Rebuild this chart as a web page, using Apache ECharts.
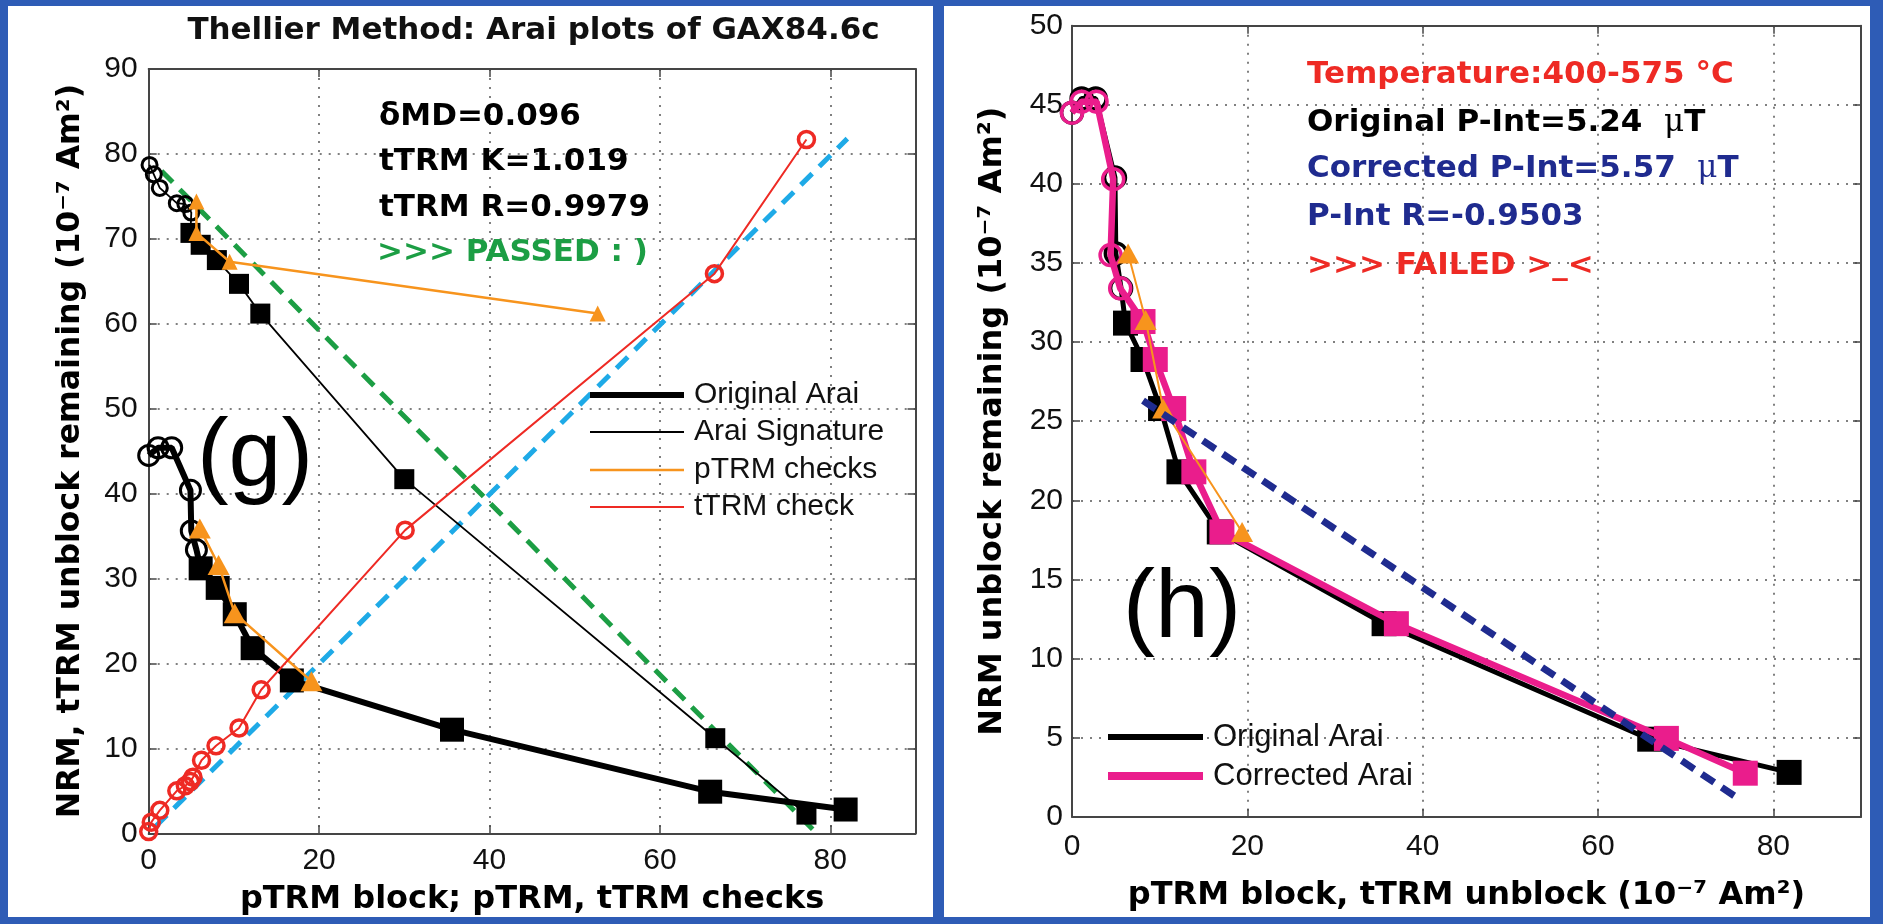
<!DOCTYPE html>
<html>
<head>
<meta charset="utf-8">
<title>Thellier Method: Arai plots of GAX84.6c</title>
<script src="https://cdn.jsdelivr.net/npm/echarts@6/dist/echarts.min.js"></script>
<style>
  html, body { margin: 0; padding: 0; width: 1883px; height: 924px; overflow: hidden; background: #2e5cb6; }
  .panel { position: absolute; background: #ffffff; }
  #chart { position: absolute; left: 0; top: 0; width: 1883px; height: 924px; }
</style>
</head>
<body>
<div class="panel" style="left:8px; top:6px; width:925px; height:911px;"></div>
<div class="panel" style="left:944px; top:6px; width:926px; height:911px;"></div>
<div id="chart"></div>
<script>
// ---- Panel (g): Arai plot and Arai signature (units 1e-7 Am^2) ----
// original Arai: NRM remaining vs pTRM gained (circles = low-T steps, squares = fitted steps)
const origCircles = [[0.0, 44.5], [1.1, 45.4], [2.7, 45.4], [4.9, 40.4], [5.0, 35.6], [5.6, 33.4]];
const origSquares = [[6.1, 31.2], [8.1, 28.9], [10.1, 25.8], [12.2, 21.8], [16.8, 18.0], [35.6, 12.2], [65.9, 4.9], [81.8, 2.8]];
// Arai signature
const sigCircles = [[0.1, 78.7], [0.6, 77.6], [1.3, 76.0], [3.3, 74.2], [4.3, 74.1], [5.0, 73.1]];
const sigSquares = [[4.9, 70.7], [6.1, 69.3], [8.0, 67.5], [10.6, 64.7], [13.1, 61.2], [30.0, 41.7], [66.5, 11.2], [77.2, 2.2]];
// pTRM checks
const sigChecks = [[5.6, 74.4], [5.6, 70.7], [9.5, 67.3], [52.7, 61.2]];
const origChecks = [[6.0, 35.9], [8.2, 31.6], [10.1, 25.9], [19.1, 17.9]];
// tTRM check
const tTRMCheck = [[0.0, 0.2], [0.3, 1.3], [1.3, 2.7], [3.3, 5.0], [4.3, 5.6], [4.9, 6.1], [5.2, 6.6],
                   [6.2, 8.6], [7.9, 10.3], [10.6, 12.4], [13.2, 16.9], [30.1, 35.7], [66.4, 65.9], [77.2, 81.7]];
// fitted lines
const sigFit = [[1.5, 78.0], [78.4, 0.0]];
const tTRMFit = [[0.8, 0.8], [82.0, 81.8]];

// ---- Panel (h): corrected Arai plot ----
const corrCircles = [[0.0, 44.5], [1.1, 45.2], [2.8, 45.2], [4.7, 40.3], [4.4, 35.5], [5.5, 33.4]];
const corrSquares = [[8.1, 31.3], [9.5, 28.9], [11.6, 25.8], [13.9, 21.8], [17.1, 18.0], [37.0, 12.2], [67.8, 4.95], [76.8, 2.75]];
const corrChecks = [[6.4, 35.6], [8.4, 31.4], [10.4, 25.8], [19.4, 18.0]];
const corrFit = [[8.1, 26.3], [75.6, 1.3]];

// axis ranges and tick steps
const gAxisX = { max: 90, step: 20 };
const gAxisY = { max: 90, step: 10 };
const hAxisX = { max: 90, step: 20 };
const hAxisY = { max: 50, step: 5 };

// texts
const titleText = 'Thellier Method: Arai plots of GAX84.6c';
const gStats = ['\u03B4MD=0.096', 'tTRM K=1.019', 'tTRM R=0.9979'];
const gVerdict = '>>> PASSED : )';
const hStats = ['Temperature:400-575 \u00B0C', 'Original P-Int=5.24  {mu|\u03BC}T', 'Corrected P-Int=5.57  {mu|\u03BC}T', 'P-Int R=-0.9503'];
const hVerdict = '>>> FAILED >_<';
const gLegend = ['Original Arai', 'Arai Signature', 'pTRM checks', 'tTRM check'];
const hLegend = ['Original Arai', 'Corrected Arai'];
const gXName = 'pTRM block; pTRM, tTRM checks';
const gYName = 'NRM, tTRM unblock remaining (10\u207B\u2077 Am\u00B2)';
const hXName = 'pTRM block, tTRM unblock (10\u207B\u2077 Am\u00B2)';
const hYName = 'NRM unblock remaining (10\u207B\u2077 Am\u00B2)';

// colours
const C = {
  black: '#000000', orange: '#f7941d', red: '#ee2a24', green: '#1c9e44',
  cyan: '#1eaae7', pink: '#ea1d8c', navy: '#1f2b8f', axis: '#454545', grid: '#808080'
};

const BOLD = '"DejaVu Sans", "Liberation Sans", sans-serif';
const REG = '"Liberation Sans", Arial, sans-serif';

function axis(kind, gridIndex, position, range, opts) {
  const main = opts.main;
  const a = {
    type: 'value', gridIndex, position, min: 0, max: range.max, interval: range.step,
    axisLine: { show: true, onZero: false, lineStyle: { color: C.axis, width: 2 } },
    axisTick: { show: true, inside: true, length: 8, lineStyle: { color: C.axis, width: 1.5 } },
    axisLabel: { show: main, color: '#111', fontFamily: REG, fontSize: 30, margin: opts.margin || 10,
                 showMaxLabel: kind === 'y' },
    splitLine: { show: main, lineStyle: { color: C.grid, width: 2, type: [2, 7] } }
  };
  if (main && opts.name) {
    a.name = opts.name;
    a.nameLocation = 'middle';
    a.nameGap = opts.nameGap;
    a.nameTextStyle = { fontFamily: BOLD, fontWeight: 'bold', fontSize: opts.nameSize || 32, color: '#000' };
  }
  return a;
}

function lineSeries(panel, data, color, width, type, z) {
  return {
    type: 'line', xAxisIndex: panel * 2, yAxisIndex: panel * 2, data,
    symbol: 'none', showSymbol: false, clip: false, silent: true, z,
    lineStyle: { color, width, type: type || 'solid' }
  };
}

function markSeries(panel, data, symbol, size, fill, stroke, borderWidth, z) {
  return {
    type: 'scatter', xAxisIndex: panel * 2, yAxisIndex: panel * 2, data,
    symbol, symbolSize: size, clip: false, silent: true, z,
    itemStyle: { color: fill, borderColor: stroke, borderWidth: borderWidth, opacity: 1 }
  };
}

const NONE = 'rgba(0,0,0,0)';

const series = [
  // panel (g)
  lineSeries(0, sigFit, C.green, 5, [16, 10], 2),
  lineSeries(0, tTRMFit, C.cyan, 5, [16, 10], 2),
  lineSeries(0, origCircles.concat(origSquares), C.black, 6, 'solid', 3),
  markSeries(0, origSquares, 'rect', 24, C.black, C.black, 0, 3),
  markSeries(0, origCircles, 'circle', 20, NONE, C.black, 3, 3),
  lineSeries(0, sigCircles.concat(sigSquares), C.black, 1.8, 'solid', 3),
  markSeries(0, sigSquares, 'rect', 20, C.black, C.black, 0, 3),
  markSeries(0, sigCircles, 'circle', 15, NONE, C.black, 3, 3),
  lineSeries(0, sigChecks, C.orange, 2.5, 'solid', 4),
  markSeries(0, sigChecks, 'triangle', [16, 16], C.orange, C.orange, 0, 4),
  lineSeries(0, origChecks, C.orange, 2.5, 'solid', 4),
  markSeries(0, origChecks, 'triangle', [22, 20], C.orange, C.orange, 0, 4),
  lineSeries(0, tTRMCheck, C.red, 2, 'solid', 5),
  markSeries(0, tTRMCheck, 'circle', 16, NONE, C.red, 3.5, 5),
  // panel (h)
  lineSeries(1, origCircles.concat(origSquares), C.black, 5, 'solid', 3),
  markSeries(1, origSquares, 'rect', 25, C.black, C.black, 0, 3),
  markSeries(1, origCircles, 'circle', 21, NONE, C.black, 3.5, 3),
  lineSeries(1, corrCircles.concat(corrSquares), C.pink, 6.5, 'solid', 4),
  markSeries(1, corrSquares, 'rect', 25, C.pink, C.pink, 0, 4),
  markSeries(1, corrCircles, 'circle', 21, NONE, C.pink, 3.5, 4),
  lineSeries(1, corrChecks, C.orange, 2, 'solid', 5),
  markSeries(1, corrChecks, 'triangle', [22, 20], C.orange, C.orange, 0, 5),
  lineSeries(1, corrFit, C.navy, 7, [15, 9], 6)
];

function txt(x, y, text, fill, font, align, extra) {
  return {
    type: 'text', x, y, z: 50, silent: true,
    style: Object.assign({
      text, fill, font,
      textAlign: align || 'left', align: align || 'left',
      textVerticalAlign: 'middle', verticalAlign: 'middle'
    }, extra || {})
  };
}

function seg(x1, x2, y, color, width) {
  return { type: 'line', z: 50, silent: true, shape: { x1, y1: y, x2, y2: y }, style: { stroke: color, lineWidth: width } };
}

const annFont = 'bold 31px ' + BOLD;
const muRich = { rich: { mu: { fontFamily: '"DejaVu Serif", serif', fontWeight: 'normal', fontSize: 31 } } };
const legFont = '30px ' + REG;

const graphics = [
  txt(533.5, 31, titleText, '#111', 'bold 31px ' + BOLD, 'center'),
  txt(379, 117, gStats[0], '#000', annFont),
  txt(379, 162, gStats[1], '#000', annFont),
  txt(379, 208, gStats[2], '#000', annFont),
  txt(377, 253, gVerdict, C.green, annFont),
  txt(255, 459, '(g)', '#000', '95px ' + REG, 'center'),
  txt(1182, 610, '(h)', '#000', '97px ' + REG, 'center'),
  txt(1307, 75, hStats[0], C.red, annFont),
  txt(1307, 123, hStats[1], '#000', annFont, 'left', muRich),
  txt(1307, 169, hStats[2], C.navy, annFont, 'left', muRich),
  txt(1307, 217, hStats[3], C.navy, annFont),
  txt(1307, 266, hVerdict, C.red, annFont),
  // legend of panel (g)
  seg(590, 684, 395, C.black, 6), txt(694, 395, gLegend[0], '#111', legFont),
  seg(590, 684, 432, C.black, 2), txt(694, 432, gLegend[1], '#111', legFont),
  seg(590, 684, 470, C.orange, 2.5), txt(694, 470, gLegend[2], '#111', legFont),
  seg(590, 684, 507, C.red, 2), txt(694, 507, gLegend[3], '#111', legFont),
  // legend of panel (h)
  seg(1108, 1203, 737, C.black, 6), txt(1213, 737, hLegend[0], '#111', '31px ' + REG),
  seg(1108, 1203, 776, C.pink, 8), txt(1213, 776, hLegend[1], '#111', '31px ' + REG)
];

const option = {
  animation: false,
  backgroundColor: 'transparent',
  grid: [
    { left: 148.7, top: 69, width: 766.8, height: 764.3 },
    { left: 1072, top: 25.7, width: 789, height: 791 }
  ],
  xAxis: [
    axis('x', 0, 'bottom', gAxisX, { main: true, margin: 12, name: gXName, nameGap: 50 }),
    axis('x', 0, 'top', gAxisX, { main: false }),
    axis('x', 1, 'bottom', hAxisX, { main: true, margin: 15, name: hXName, nameGap: 63 }),
    axis('x', 1, 'top', hAxisX, { main: false })
  ],
  yAxis: [
    axis('y', 0, 'left', gAxisY, { main: true, margin: 11, name: gYName, nameGap: 62, nameSize: 31.5 }),
    axis('y', 0, 'right', gAxisY, { main: false }),
    axis('y', 1, 'left', hAxisY, { main: true, margin: 9, name: hYName, nameGap: 63 }),
    axis('y', 1, 'right', hAxisY, { main: false })
  ],
  series,
  graphic: { elements: graphics }
};

const chart = echarts.init(document.getElementById('chart'), null, { renderer: 'canvas' });
chart.setOption(option);
</script>
</body>
</html>
